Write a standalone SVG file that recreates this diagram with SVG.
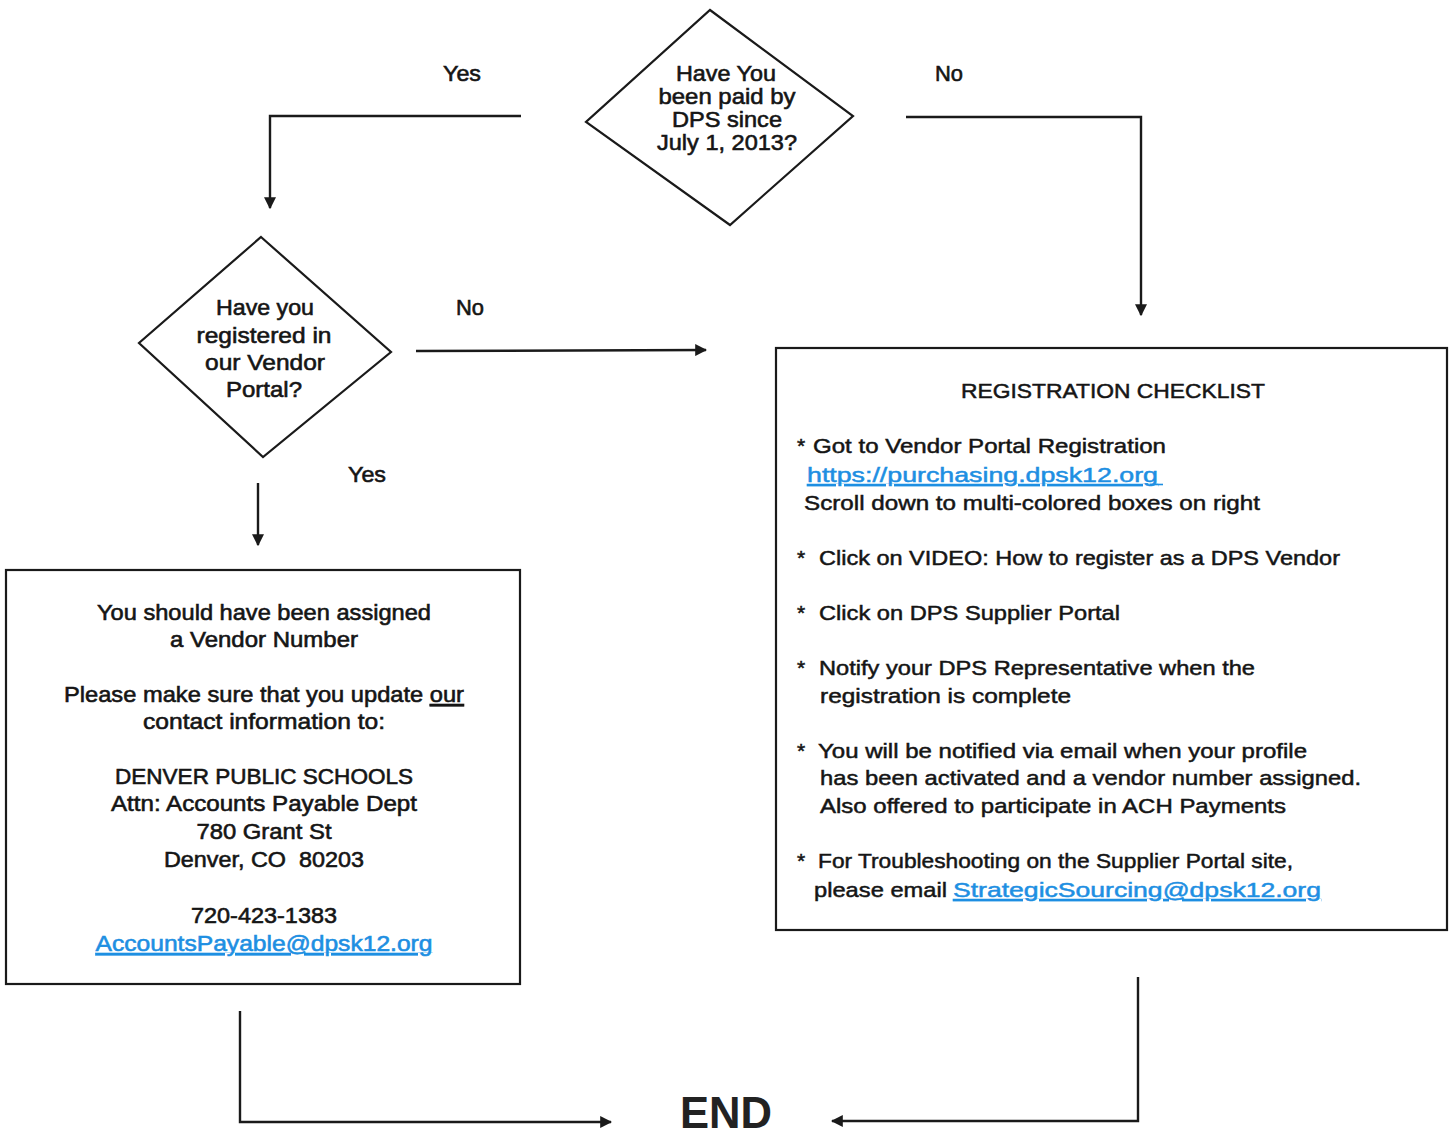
<svg xmlns="http://www.w3.org/2000/svg" width="1450" height="1138" viewBox="0 0 1450 1138">
<style>
.shape{fill:#fff;stroke:#1a1a1a;stroke-width:2.2}
.conn{fill:none;stroke:#1a1a1a;stroke-width:2.4}
.t{font-family:"Liberation Sans",Arial,sans-serif;font-size:21px;fill:#151515;stroke:#151515;stroke-width:0.5}
.w{font-size:22.5px;stroke-width:0.6}
.c{text-anchor:middle}
.link{fill:#1e8fe2;stroke:#1e8fe2;text-decoration:underline}
.end{font-family:"Liberation Sans",Arial,sans-serif;font-weight:bold;font-size:44px;fill:#222;text-anchor:middle}
</style>
<defs>
<marker id="ah" viewBox="0 0 10 10" refX="9" refY="5" markerWidth="5" markerHeight="5" orient="auto" markerUnits="strokeWidth">
<path d="M0,0 L10,5 L0,10 z" fill="#1a1a1a"/>
</marker>
</defs>
<rect width="1450" height="1138" fill="#fff"/>

<g id="connectors">
<polyline class="conn" points="521,116 270,116 270,208" marker-end="url(#ah)"/>
<polyline class="conn" points="906,117 1141,117 1141,315" marker-end="url(#ah)"/>
<line class="conn" x1="416" y1="351" x2="706" y2="350" marker-end="url(#ah)"/>
<line class="conn" x1="258" y1="483" x2="258" y2="545" marker-end="url(#ah)"/>
<polyline class="conn" points="240,1011 240,1122 611,1122" marker-end="url(#ah)"/>
<polyline class="conn" points="1138,977 1138,1121 832,1121" marker-end="url(#ah)"/>
<text class="t w c" x="462" y="81" textLength="38" lengthAdjust="spacingAndGlyphs">Yes</text>
<text class="t w c" x="949" y="81" textLength="28" lengthAdjust="spacingAndGlyphs">No</text>
<text class="t w c" x="470" y="315" textLength="28" lengthAdjust="spacingAndGlyphs">No</text>
<text class="t w c" x="367" y="482" textLength="38" lengthAdjust="spacingAndGlyphs">Yes</text>
</g>

<g id="decision-paid">
<polygon class="shape" points="710,10 853,116 730,225 586,122"/>
<text class="t w c" x="726" y="81" textLength="100" lengthAdjust="spacingAndGlyphs">Have You</text>
<text class="t w c" x="727" y="104" textLength="137" lengthAdjust="spacingAndGlyphs">been paid by</text>
<text class="t w c" x="727" y="127" textLength="110" lengthAdjust="spacingAndGlyphs">DPS since</text>
<text class="t w c" x="727" y="150" textLength="140" lengthAdjust="spacingAndGlyphs">July 1, 2013?</text>
</g>

<g id="decision-registered">
<polygon class="shape" points="261,237 391,352 263,457 139,343"/>
<text class="t w c" x="265" y="315" textLength="98" lengthAdjust="spacingAndGlyphs">Have you</text>
<text class="t w c" x="264" y="343" textLength="135" lengthAdjust="spacingAndGlyphs">registered in</text>
<text class="t w c" x="265" y="370" textLength="120" lengthAdjust="spacingAndGlyphs">our Vendor</text>
<text class="t w c" x="264" y="397" textLength="76" lengthAdjust="spacingAndGlyphs">Portal?</text>
</g>

<g id="vendor-number-box">
<rect class="shape" x="6" y="570" width="514" height="414"/>
<text class="t w c" x="264" y="620" textLength="334" lengthAdjust="spacingAndGlyphs">You should have been assigned</text>
<text class="t w c" x="264" y="647" textLength="188" lengthAdjust="spacingAndGlyphs">a Vendor Number</text>
<text class="t w c" x="264" y="702" textLength="400" lengthAdjust="spacingAndGlyphs">Please make sure that you update <tspan text-decoration="underline">our</tspan></text>
<text class="t w c" x="264" y="729" textLength="242" lengthAdjust="spacingAndGlyphs">contact information to:</text>
<text class="t w c" x="264" y="784" textLength="298" lengthAdjust="spacingAndGlyphs">DENVER PUBLIC SCHOOLS</text>
<text class="t w c" x="264" y="811" textLength="306" lengthAdjust="spacingAndGlyphs">Attn: Accounts Payable Dept</text>
<text class="t w c" x="264" y="839" textLength="135" lengthAdjust="spacingAndGlyphs">780 Grant St</text>
<text class="t w c" x="264" y="867" textLength="200" lengthAdjust="spacingAndGlyphs" xml:space="preserve">Denver, CO  80203</text>
<text class="t w c" x="264" y="923" textLength="146" lengthAdjust="spacingAndGlyphs">720-423-1383</text>
<text class="t w c link" x="264" y="951" textLength="337" lengthAdjust="spacingAndGlyphs">AccountsPayable@dpsk12.org</text>
</g>

<g id="registration-checklist">
<rect class="shape" x="776" y="348" width="671" height="582"/>
<text class="t c" x="1113" y="398" textLength="304" lengthAdjust="spacingAndGlyphs">REGISTRATION CHECKLIST</text>
<text class="t" x="797" y="453">*</text>
<text class="t" x="813" y="453" textLength="353" lengthAdjust="spacingAndGlyphs">Got to Vendor Portal Registration</text>
<text class="t link" x="807" y="482" textLength="351" lengthAdjust="spacingAndGlyphs">https://purchasing.dpsk12.org</text>
<line x1="1150" y1="484.5" x2="1163" y2="484.5" stroke="#1e8fe2" stroke-width="1.6"/>
<text class="t" x="804" y="510" textLength="456" lengthAdjust="spacingAndGlyphs">Scroll down to multi-colored boxes on right</text>
<text class="t" x="797" y="565">*</text>
<text class="t" x="819" y="565" textLength="521" lengthAdjust="spacingAndGlyphs">Click on VIDEO: How to register as a DPS Vendor</text>
<text class="t" x="797" y="620">*</text>
<text class="t" x="819" y="620" textLength="301" lengthAdjust="spacingAndGlyphs">Click on DPS Supplier Portal</text>
<text class="t" x="797" y="675">*</text>
<text class="t" x="819" y="675" textLength="436" lengthAdjust="spacingAndGlyphs">Notify your DPS Representative when the</text>
<text class="t" x="820" y="703" textLength="251" lengthAdjust="spacingAndGlyphs">registration is complete</text>
<text class="t" x="797" y="758">*</text>
<text class="t" x="818" y="758" textLength="489" lengthAdjust="spacingAndGlyphs">You will be notified via email when your profile</text>
<text class="t" x="820" y="785" textLength="541" lengthAdjust="spacingAndGlyphs">has been activated and a vendor number assigned.</text>
<text class="t" x="820" y="813" textLength="466" lengthAdjust="spacingAndGlyphs">Also offered to participate in ACH Payments</text>
<text class="t" x="797" y="868">*</text>
<text class="t" x="818" y="868" textLength="475" lengthAdjust="spacingAndGlyphs">For Troubleshooting on the Supplier Portal site,</text>
<text class="t" x="814" y="897" textLength="133" lengthAdjust="spacingAndGlyphs">please email</text>
<text class="t link" x="953" y="897" textLength="368" lengthAdjust="spacingAndGlyphs">StrategicSourcing@dpsk12.org</text>
</g>

<g id="end">
<text class="end" x="726" y="1128" textLength="92" lengthAdjust="spacingAndGlyphs">END</text>
</g>
</svg>
